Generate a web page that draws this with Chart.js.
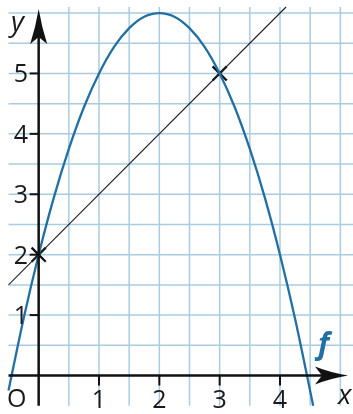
<!DOCTYPE html>
<html>
<head>
<meta charset="utf-8">
<script src="https://cdn.jsdelivr.net/npm/chart.js@4.4.1/dist/chart.umd.min.js"></script>
<style>
  body { margin: 0; background: #fff; }
  #box { width: 353px; height: 414px; }
</style>
</head>
<body>
<div id="box"><canvas id="grafico" width="353" height="414"></canvas></div>
<script>
// valores
const parabolaX = [-0.5, -0.25, 0, 0.25, 0.5, 0.75, 1, 1.25, 1.5, 1.75, 2, 2.25, 2.5, 2.75, 3, 3.25, 3.5, 3.75, 4, 4.25, 4.55];
const parabolaY = [-0.25, 0.94, 2, 2.94, 3.75, 4.44, 5, 5.44, 5.75, 5.94, 6, 5.94, 5.75, 5.44, 5, 4.44, 3.75, 2.94, 2, 0.94, -0.5];
const retaX = [-0.5, 4.1];
const retaY = [1.5, 6.1];
const cruzX = [0, 3];
const cruzY = [2, 5];
const ticksX = [1, 2, 3, 4];
const ticksY = [1, 2, 3, 4, 5];

const azul = '#2270a3';
const corGrade = '#a9cce2';
const fonte = '"Open Sans", "Noto Sans", sans-serif';

function pares(xs, ys) {
    return xs.map((x, i) => ({ x: x, y: ys[i] }));
}

// grade, eixos, setas e textos
const desenhoEixos = {
    id: 'desenhoEixos',
    beforeDatasetsDraw(chart) {
        const ctx = chart.ctx;
        const sx = chart.scales.x, sy = chart.scales.y;
        const a = chart.chartArea;
        ctx.save();
        ctx.strokeStyle = corGrade;
        ctx.lineWidth = 1.5;
        for (let v = 0.5; v <= 5.01; v += 0.5) {
            const px = sx.getPixelForValue(v);
            ctx.beginPath(); ctx.moveTo(px, a.top); ctx.lineTo(px, a.bottom); ctx.stroke();
        }
        for (let v = 0.5; v <= 6.01; v += 0.5) {
            const py = sy.getPixelForValue(v);
            ctx.beginPath(); ctx.moveTo(a.left, py); ctx.lineTo(a.right, py); ctx.stroke();
        }
        ctx.restore();
    },
    afterDatasetsDraw(chart) {
        const ctx = chart.ctx;
        const sx = chart.scales.x, sy = chart.scales.y;
        const a = chart.chartArea;
        const x0 = sx.getPixelForValue(0), y0 = sy.getPixelForValue(0);
        ctx.save();
        ctx.strokeStyle = '#111';
        ctx.fillStyle = '#111';
        ctx.lineWidth = 2.5;
        // eixo x
        ctx.beginPath(); ctx.moveTo(a.left, y0); ctx.lineTo(340, y0); ctx.stroke();
        // eixo y
        ctx.beginPath(); ctx.moveTo(x0, a.bottom); ctx.lineTo(x0, 20); ctx.stroke();
        // setas
        ctx.beginPath();
        ctx.moveTo(348, y0);
        ctx.quadraticCurveTo(330, y0 - 3, 315, y0 - 9);
        ctx.lineTo(322, y0);
        ctx.lineTo(315, y0 + 9);
        ctx.quadraticCurveTo(330, y0 + 3, 348, y0);
        ctx.fill();
        ctx.beginPath();
        ctx.moveTo(x0, 9);
        ctx.quadraticCurveTo(x0 - 3, 27, x0 - 8.5, 44);
        ctx.lineTo(x0, 37);
        ctx.lineTo(x0 + 8.5, 44);
        ctx.quadraticCurveTo(x0 + 3, 27, x0, 9);
        ctx.fill();
        // marcas
        ctx.lineWidth = 2;
        ticksX.forEach(v => {
            const px = sx.getPixelForValue(v);
            ctx.beginPath(); ctx.moveTo(px, y0); ctx.lineTo(px, y0 + 10); ctx.stroke();
        });
        ticksY.forEach(v => {
            const py = sy.getPixelForValue(v);
            ctx.beginPath(); ctx.moveTo(x0 - 9, py); ctx.lineTo(x0, py); ctx.stroke();
        });
        // textos
        ctx.fillStyle = '#1a1a1a';
        ctx.font = '25px ' + fonte;
        ctx.textAlign = 'center';
        ctx.textBaseline = 'alphabetic';
        ticksX.forEach(v => ctx.fillText(String(v), sx.getPixelForValue(v), 408));
        ctx.textAlign = 'right';
        ticksY.forEach(v => ctx.fillText(String(v), 28, sy.getPixelForValue(v) + 9));
        ctx.textAlign = 'left';
        ctx.fillText('O', 7, 407);
        ctx.font = 'italic 28px ' + fonte;
        ctx.fillText('y', 11, 31);
        ctx.fillText('x', 338, 404);
        ctx.fillStyle = azul;
        ctx.font = 'italic bold 30px ' + fonte;
        ctx.fillText('f', 318, 354);
        ctx.restore();
    }
};

new Chart(document.getElementById('grafico'), {
    type: 'scatter',
    data: {
        datasets: [
            {
                data: pares(parabolaX, parabolaY),
                showLine: true,
                borderColor: azul,
                borderWidth: 2.3,
                pointRadius: 0,
                cubicInterpolationMode: 'monotone',
                clip: 10
            },
            {
                data: pares(retaX, retaY),
                showLine: true,
                borderColor: '#222',
                borderWidth: 1.1,
                pointRadius: 0,
                clip: 10
            },
            {
                data: pares(cruzX, cruzY),
                showLine: false,
                pointStyle: 'crossRot',
                pointRadius: 10,
                borderColor: '#111',
                borderWidth: 2.3,
                clip: 20
            }
        ]
    },
    options: {
        responsive: false,
        devicePixelRatio: 1,
        animation: false,
        layout: { autoPadding: false, padding: { left: 8.5, right: 0, top: 7, bottom: 8.3 } },
        plugins: { legend: { display: false }, tooltip: { enabled: false } },
        scales: {
            x: { type: 'linear', min: -0.5, max: 5.21, display: false },
            y: { type: 'linear', min: -0.5, max: 6.1, display: false }
        }
    },
    plugins: [desenhoEixos]
});
</script>
</body>
</html>
